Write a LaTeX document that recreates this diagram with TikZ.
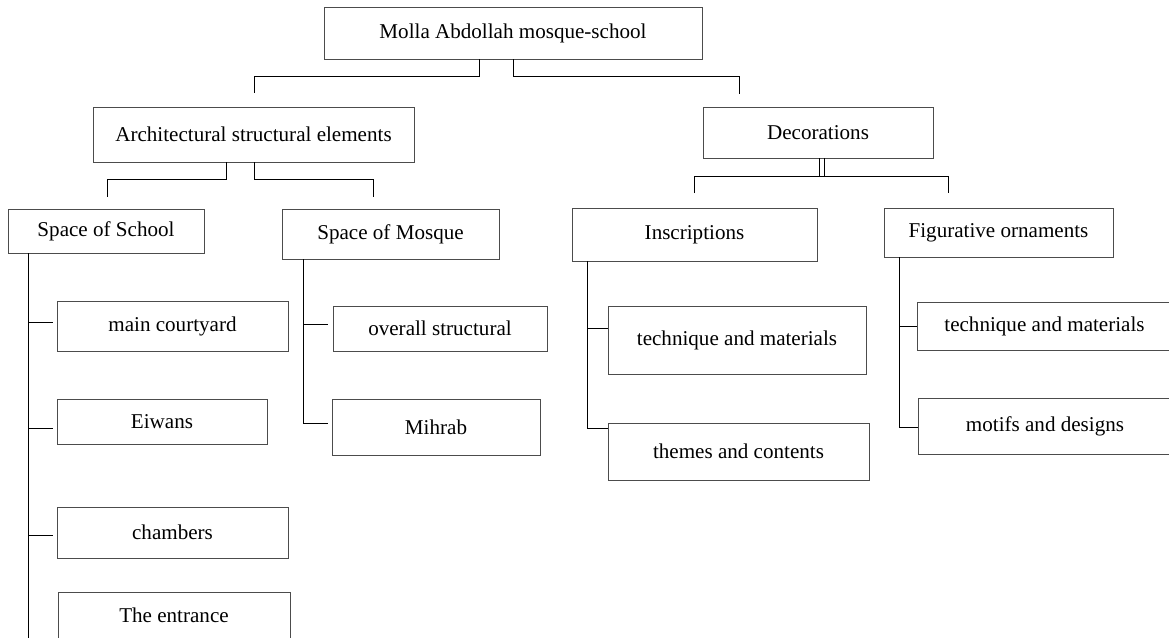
\documentclass[tikz,border=0pt]{standalone}
\usepackage{fontspec}
\setmainfont{Liberation Serif}
\usetikzlibrary{fit}
\begin{document}
\begin{tikzpicture}[x=0.02cm,y=-0.02cm,
  box/.style={draw=black!70, line width=0.5pt, inner sep=0pt},
  txt/.style={label={[font=\fontsize{12}{14}\selectfont, inner sep=0pt, anchor=center]center:#1}},
  conn/.style={draw=black, line width=0.55pt}]
\useasboundingbox (0,0) rectangle (1169,637);
\clip (0,0) rectangle (1169,637);
% nodes
\node[box, fit={(324,7) (702,59)}, txt={Molla Abdollah mosque-school}] (root) {};
\node[box, fit={(93,107) (414,162)}, txt={Architectural structural elements}] (arch) {};
\node[box, fit={(703,107) (933,158)}, txt={Decorations}] (deco) {};
\node[box, fit={(8,209) (204,253)}, txt={Space of School}] (school) {};
\node[box, fit={(282,209) (499,259)}, txt={Space of Mosque}] (mosque) {};
\node[box, fit={(572,208) (817,261)}, txt={Inscriptions}] (insc) {};
\node[box, fit={(884,208) (1113,257)}, txt={Figurative ornaments}] (fig) {};
\node[box, fit={(57,301) (288,351)}, txt={main courtyard}] (court) {};
\node[box, fit={(57,399) (267,444)}, txt={Eiwans}] (eiwans) {};
\node[box, fit={(57,507) (288,558)}, txt={chambers}] (chambers) {};
\node[box, fit={(58,592) (290,638)}, txt={The entrance}] (entrance) {};
\node[box, fit={(333,306) (547,351)}, txt={overall structural}] (overall) {};
\node[box, fit={(332,399) (540,455)}, txt={Mihrab}] (mihrab) {};
\node[box, fit={(608,306) (866,374)}, txt={technique and materials}] (techA) {};
\node[box, fit={(608,423) (869,480)}, txt={themes and contents}] (themes) {};
\node[box, fit={(917,302) (1172,350)}, txt={technique and materials}] (techB) {};
\node[box, fit={(918,398) (1172,454)}, txt={motifs and designs}] (motifs) {};
% connectors
\draw[conn] (root.south -| 479,0) -- (479,76) -- (254,76) -- (254,93);
\draw[conn] (root.south -| 513,0) -- (513,76) -- (739,76) -- (739,94);
\draw[conn] (arch.south -| 226,0) -- (226,179) -- (107,179) -- (107,197);
\draw[conn] (arch.south -| 254,0) -- (254,179) -- (373,179) -- (373,197);
\draw[conn] (deco.south -| 819,0) -- (819,176);
\draw[conn] (deco.south -| 824,0) -- (824,176);
\draw[conn] (694,193) -- (694,176) -- (948,176) -- (948,193);
% school trunk
\draw[conn] (school.south -| 28,0) -- (28,640);
\draw[conn] (28,322) -- (53,322);
\draw[conn] (28,428) -- (53,428);
\draw[conn] (28,535) -- (53,535);
% mosque trunk
\draw[conn] (mosque.south -| 303,0) -- (303,423) -- (328,423);
\draw[conn] (303,324) -- (328,324);
% inscriptions trunk
\draw[conn] (insc.south -| 587,0) -- (587,428) -- (themes.west |- 0,428);
\draw[conn] (587,328) -- (techA.west |- 0,328);
% figurative trunk
\draw[conn] (fig.south -| 899,0) -- (899,427) -- (motifs.west |- 0,427);
\draw[conn] (899,326) -- (techB.west |- 0,326);
\end{tikzpicture}
\end{document}
